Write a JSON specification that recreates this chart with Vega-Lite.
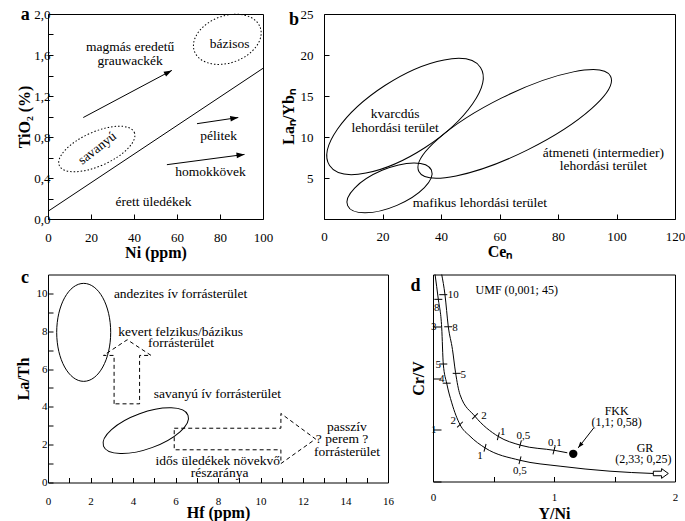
{
"$schema": "https://vega.github.io/schema/vega-lite/v6.json",
"padding": {"left": 14, "top": 5, "right": 0, "bottom": 0},
"background": "white",
"config": {
  "font": "Liberation Serif, Times New Roman, serif",
  "view": {"stroke": "black", "strokeWidth": 1},
  "axis": {"domain": false, "grid": false, "tickColor": "black", "tickSize": -5, "labelColor": "black", "titleColor": "black", "labelFont": "Liberation Serif, Times New Roman, serif", "titleFont": "Liberation Serif, Times New Roman, serif", "titleFontWeight": "bold", "titleFontSize": 16, "labelFontSize": 13, "labelFlush": false, "labelOverlap": false, "labelBound": false},
  "title": {"font": "Liberation Serif, Times New Roman, serif", "fontSize": 18, "fontWeight": "bold", "anchor": "start", "frame": "bounds", "color": "black"},
  "text": {"font": "Liberation Serif, Times New Roman, serif", "color": "black"}
},
"datasets": {
  "a_rules": [
    {"id": "L", "x": 0, "y": 0.075, "x2": 100, "y2": 1.47},
    {"id": "A1", "x": 16.4, "y": 0.99, "x2": 57.6, "y2": 1.45},
    {"id": "A2", "x": 69.3, "y": 0.93, "x2": 88.5, "y2": 0.99},
    {"id": "A3", "x": 55.3, "y": 0.53, "x2": 91.4, "y2": 0.63}
  ],
  "a_heads": [
    {"id": "A1", "x": 57.6, "y": 1.45},
    {"id": "A2", "x": 88.5, "y": 0.99},
    {"id": "A3", "x": 91.4, "y": 0.63}
  ],
  "a_ell": [
    {"id": "sav", "x": 22.7, "y": 0.683},
    {"id": "baz", "x": 83.4, "y": 1.753}
  ],
  "a_text": [
    {"x": 38.2, "y": 1.675, "t": "magmás eredetű"},
    {"x": 38.2, "y": 1.542, "t": "grauwackék"},
    {"x": 84.5, "y": 1.707, "t": "bázisos"},
    {"x": 79.4, "y": 0.813, "t": "pélitek"},
    {"x": 75.6, "y": 0.455, "t": "homokkövek"},
    {"x": 49.1, "y": 0.163, "t": "érett üledékek"}
  ],
  "a_text_rot": [
    {"x": 22.9, "y": 0.69, "t": "savanyú"}
  ],
  "b_ell": [
    {"id": "kv", "x": 27.7, "y": 12.5},
    {"id": "at", "x": 65.2, "y": 11.6},
    {"id": "ma", "x": 22.4, "y": 3.8}
  ],
  "b_text": [
    {"x": 24.3, "y": 12.8, "t": "kvarcdús"},
    {"x": 24.3, "y": 11.06, "t": "lehordási terület"},
    {"x": 95.5, "y": 8.01, "t": "átmeneti (intermedier)"},
    {"x": 95.5, "y": 6.42, "t": "lehordási terület"},
    {"x": 53.3, "y": 1.95, "t": "mafikus lehordási terület"}
  ],
  "c_ell": [
    {"id": "and", "x": 1.68, "y": 7.94},
    {"id": "sav", "x": 4.6, "y": 2.74}
  ],
  "c_arrows": [
    {"g": 1, "o": 1, "x": 3.11, "y": 4.16},
    {"g": 1, "o": 2, "x": 3.11, "y": 6.72},
    {"g": 1, "o": 3, "x": 2.61, "y": 6.72},
    {"g": 1, "o": 4, "x": 3.73, "y": 7.55},
    {"g": 1, "o": 5, "x": 4.85, "y": 6.72},
    {"g": 1, "o": 6, "x": 4.31, "y": 6.72},
    {"g": 1, "o": 7, "x": 4.31, "y": 4.16},
    {"g": 1, "o": 8, "x": 3.11, "y": 4.16},
    {"g": 2, "o": 1, "x": 5.94, "y": 2.87},
    {"g": 2, "o": 2, "x": 10.96, "y": 2.87},
    {"g": 2, "o": 3, "x": 10.96, "y": 3.65},
    {"g": 2, "o": 4, "x": 12.59, "y": 2.3},
    {"g": 2, "o": 5, "x": 10.96, "y": 1.0},
    {"g": 2, "o": 6, "x": 10.96, "y": 1.73},
    {"g": 2, "o": 7, "x": 5.94, "y": 1.73},
    {"g": 2, "o": 8, "x": 5.94, "y": 2.87}
  ],
  "c_text": [
    {"x": 6.24, "y": 9.98, "t": "andezites ív forrásterület"},
    {"x": 6.24, "y": 7.95, "t": "kevert felzikus/bázikus"},
    {"x": 6.26, "y": 7.37, "t": "forrásterület"},
    {"x": 7.97, "y": 4.66, "t": "savanyú ív forrásterület"},
    {"x": 14.07, "y": 2.95, "t": "passzív"},
    {"x": 13.84, "y": 2.3, "t": "? perem ?"},
    {"x": 14.07, "y": 1.6, "t": "forrásterület"},
    {"x": 7.99, "y": 1.16, "t": "idős üledékek növekvő"},
    {"x": 8.08, "y": 0.5, "t": "részaránya"}
  ],
  "d_curves": [
    {"g": "in", "o": 1, "x": 0.017, "y": 4.0},
    {"g": "in", "o": 2, "x": 0.044, "y": 3.52},
    {"g": "in", "o": 3, "x": 0.072, "y": 2.97},
    {"g": "in", "o": 4, "x": 0.085, "y": 2.27},
    {"g": "in", "o": 5, "x": 0.113, "y": 1.9},
    {"g": "in", "o": 6, "x": 0.155, "y": 1.52},
    {"g": "in", "o": 7, "x": 0.223, "y": 1.1},
    {"g": "in", "o": 8, "x": 0.306, "y": 0.875},
    {"g": "in", "o": 9, "x": 0.43, "y": 0.65},
    {"g": "in", "o": 10, "x": 0.719, "y": 0.41},
    {"g": "in", "o": 11, "x": 1.05, "y": 0.296},
    {"g": "in", "o": 12, "x": 1.463, "y": 0.199},
    {"g": "in", "o": 13, "x": 1.82, "y": 0.155},
    {"g": "out", "o": 1, "x": 0.072, "y": 4.0},
    {"g": "out", "o": 2, "x": 0.099, "y": 3.61},
    {"g": "out", "o": 3, "x": 0.126, "y": 3.0},
    {"g": "out", "o": 4, "x": 0.161, "y": 2.55},
    {"g": "out", "o": 5, "x": 0.186, "y": 2.11},
    {"g": "out", "o": 6, "x": 0.223, "y": 1.68},
    {"g": "out", "o": 7, "x": 0.347, "y": 1.26},
    {"g": "out", "o": 8, "x": 0.54, "y": 0.87},
    {"g": "out", "o": 9, "x": 0.725, "y": 0.7},
    {"g": "out", "o": 10, "x": 1.008, "y": 0.6},
    {"g": "out", "o": 11, "x": 1.11, "y": 0.555}
  ],
  "d_ticks": [
    {"g": "s", "x": 0.085, "y": 3.61},
    {"g": "s", "x": 0.126, "y": 2.99},
    {"g": "s", "x": 0.196, "y": 2.09},
    {"g": "m", "x": 0.347, "y": 1.26},
    {"g": "f", "x": 0.54, "y": 0.875},
    {"g": "f", "x": 0.722, "y": 0.72},
    {"g": "f", "x": 1.0, "y": 0.6},
    {"g": "s", "x": 0.044, "y": 3.52},
    {"g": "s", "x": 0.085, "y": 2.27},
    {"g": "s", "x": 0.113, "y": 1.9},
    {"g": "m", "x": 0.223, "y": 1.1},
    {"g": "f", "x": 0.43, "y": 0.65},
    {"g": "f", "x": 0.719, "y": 0.41}
  ],
  "d_tlab": [
    {"x": 0.168, "y": 3.61, "t": "10"},
    {"x": 0.182, "y": 2.97, "t": "8"},
    {"x": 0.25, "y": 2.05, "t": "5"},
    {"x": 0.421, "y": 1.26, "t": "2"},
    {"x": 0.576, "y": 0.96, "t": "1"},
    {"x": 0.746, "y": 0.875, "t": "0,5"},
    {"x": 1.008, "y": 0.75, "t": "0,1"},
    {"x": 0.031, "y": 3.36, "t": "8"},
    {"x": 0.044, "y": 2.26, "t": "5"},
    {"x": 0.072, "y": 1.98, "t": "4"},
    {"x": 0.168, "y": 1.165, "t": "2"},
    {"x": 0.388, "y": 0.49, "t": "1"},
    {"x": 0.719, "y": 0.2, "t": "0,5"}
  ],
  "d_text": [
    {"x": 0.692, "y": 3.71, "t": "UMF (0,001; 45)"},
    {"x": 1.518, "y": 1.36, "t": "FKK"},
    {"x": 1.518, "y": 1.146, "t": "(1,1; 0,58)"},
    {"x": 1.752, "y": 0.65, "t": "GR"},
    {"x": 1.738, "y": 0.43, "t": "(2,33; 0,25)"}
  ],
  "d_dot": [{"x": 1.159, "y": 0.535}],
  "d_rule": [{"x": 1.33, "y": 1.04, "x2": 1.2, "y2": 0.65}],
  "d_head": [{"x": 1.2, "y": 0.65}],
  "d_gr": [{"x": 1.883, "y": 0.155}]
},
"spacing": 7.5,
"vconcat": [
  {
    "spacing": 5,
    "hconcat": [
      {
        "width": 215, "height": 205,
        "title": {"text": "a", "offset": -13, "dy": 3, "dx": 4},
        "encoding": {
          "x": {"field": "x", "type": "quantitative", "scale": {"domain": [0, 100], "nice": false, "zero": false},
                "axis": {"title": "Ni (ppm)", "values": [0, 20, 40, 60, 80, 100], "labelPadding": 17, "titlePadding": 0.5}},
          "y": {"field": "y", "type": "quantitative", "scale": {"domain": [0, 2], "nice": false, "zero": false},
                "axis": {"title": "TiO₂ (%)", "values": [0, 0.2, 0.4, 0.6, 0.8, 1, 1.2, 1.4, 1.6, 1.8, 2], "labelExpr": "round(datum.value*10) % 4 === 0 ? replace(format(datum.value, '.1f'), '.', ',') : ''", "labelPadding": 3, "titlePadding": 1}}
        },
        "layer": [
          {"data": {"name": "a_rules"}, "mark": {"type": "rule", "color": "black", "strokeWidth": 1},
           "encoding": {"x2": {"field": "x2"}, "y2": {"field": "y2"}}},
          {"data": {"name": "a_heads"}, "transform": [{"filter": "datum.id === 'A1'"}],
           "mark": {"type": "point", "shape": "M 0 0 L -0.35 1 L 0.35 1 Z", "filled": true, "color": "black", "opacity": 1, "size": 256, "angle": 62}},
          {"data": {"name": "a_heads"}, "transform": [{"filter": "datum.id === 'A2'"}],
           "mark": {"type": "point", "shape": "M 0 0 L -0.35 1 L 0.35 1 Z", "filled": true, "color": "black", "opacity": 1, "size": 256, "angle": 81}},
          {"data": {"name": "a_heads"}, "transform": [{"filter": "datum.id === 'A3'"}],
           "mark": {"type": "point", "shape": "M 0 0 L -0.35 1 L 0.35 1 Z", "filled": true, "color": "black", "opacity": 1, "size": 256, "angle": 83}},
          {"data": {"name": "a_ell"}, "transform": [{"filter": "datum.id === 'sav'"}],
           "mark": {"type": "point", "shape": "M 1 0 C 1 0.229 0.552 0.415 0 0.415 C -0.552 0.415 -1 0.229 -1 0 C -1 -0.229 -0.552 -0.415 0 -0.415 C 0.552 -0.415 1 -0.229 1 0 Z", "filled": false, "color": "black", "opacity": 1, "strokeWidth": 1, "strokeDash": [1.5, 2], "size": 6724, "angle": -24}},
          {"data": {"name": "a_ell"}, "transform": [{"filter": "datum.id === 'baz'"}],
           "mark": {"type": "point", "shape": "M 1 0 C 1 0.371 0.552 0.671 0 0.671 C -0.552 0.671 -1 0.371 -1 0 C -1 -0.371 -0.552 -0.671 0 -0.671 C 0.552 -0.671 1 -0.371 1 0 Z", "filled": false, "color": "black", "opacity": 1, "strokeWidth": 1, "strokeDash": [1.5, 2], "size": 4900, "angle": -20}},
          {"data": {"name": "a_text"}, "mark": {"type": "text", "fontSize": 13.5},
           "encoding": {"text": {"field": "t"}}},
          {"data": {"name": "a_text_rot"}, "mark": {"type": "text", "fontSize": 13.5, "angle": -38},
           "encoding": {"text": {"field": "t"}}}
        ]
      },
      {
        "width": 351, "height": 205,
        "title": {"text": "b", "offset": -17.5, "dx": 9, "dy": 3.5},
        "encoding": {
          "x": {"field": "x", "type": "quantitative", "scale": {"domain": [0, 120], "nice": false, "zero": false},
                "axis": {"title": "Ceₙ", "values": [0, 20, 40, 60, 80, 100, 120], "labelPadding": 16.5, "titlePadding": 0}},
          "y": {"field": "y", "type": "quantitative", "scale": {"domain": [0, 25], "nice": false, "zero": false},
                "axis": {"title": "Laₙ/Ybₙ", "values": [0, 5, 10, 15, 20, 25], "labelExpr": "datum.value === 0 ? '' : datum.label", "labelPadding": 16, "titlePadding": 4}}
        },
        "layer": [
          {"data": {"name": "b_ell"}, "transform": [{"filter": "datum.id === 'kv'"}],
           "mark": {"type": "point", "shape": "M 1 0 C 1 0.227 0.552 0.411 0 0.411 C -0.552 0.411 -1 0.227 -1 0 C -1 -0.227 -0.552 -0.411 0 -0.411 C 0.552 -0.411 1 -0.227 1 0 Z", "filled": false, "color": "black", "opacity": 1, "strokeWidth": 1, "size": 32400, "angle": -33}},
          {"data": {"name": "b_ell"}, "transform": [{"filter": "datum.id === 'at'"}],
           "mark": {"type": "point", "shape": "M 1 0 C 1 0.15 0.552 0.271 0 0.271 C -0.552 0.271 -1 0.15 -1 0 C -1 -0.15 -0.552 -0.271 0 -0.271 C 0.552 -0.271 1 -0.15 1 0 Z", "filled": false, "color": "black", "opacity": 1, "strokeWidth": 1, "size": 45796, "angle": -26.4}},
          {"data": {"name": "b_ell"}, "transform": [{"filter": "datum.id === 'ma'"}],
           "mark": {"type": "point", "shape": "M 1 0 C 1 0.231 0.552 0.418 0 0.418 C -0.552 0.418 -1 0.231 -1 0 C -1 -0.231 -0.552 -0.418 0 -0.418 C 0.552 -0.418 1 -0.231 1 0 Z", "filled": false, "color": "black", "opacity": 1, "strokeWidth": 1, "size": 8281, "angle": -23}},
          {"data": {"name": "b_text"}, "mark": {"type": "text", "fontSize": 13.5},
           "encoding": {"text": {"field": "t"}}}
        ]
      }
    ]
  },
  {
    "spacing": 16,
    "hconcat": [
      {
        "width": 340, "height": 208,
        "title": {"text": "c", "offset": -8.5, "dx": 6, "dy": 4},
        "encoding": {
          "x": {"field": "x", "type": "quantitative", "scale": {"domain": [0, 16], "nice": false, "zero": false},
                "axis": {"title": "Hf (ppm)", "values": [0, 1, 2, 3, 4, 5, 6, 7, 8, 9, 10, 11, 12, 13, 14, 15, 16], "labelExpr": "datum.value % 2 === 0 ? datum.label : ''", "labelPadding": 18, "titlePadding": -2.5, "labelFontSize": 11}},
          "y": {"field": "y", "type": "quantitative", "scale": {"domain": [0, 11], "nice": false, "zero": false},
                "axis": {"title": "La/Th", "values": [0, 1, 2, 3, 4, 5, 6, 7, 8, 9, 10], "labelExpr": "datum.value % 2 === 0 ? datum.label : ''", "labelPadding": 6, "titlePadding": 5, "labelFontSize": 11}}
        },
        "layer": [
          {"data": {"name": "c_ell"}, "transform": [{"filter": "datum.id === 'and'"}],
           "mark": {"type": "point", "shape": "M 1 0 C 1 0.304 0.552 0.551 0 0.551 C -0.552 0.551 -1 0.304 -1 0 C -1 -0.304 -0.552 -0.551 0 -0.551 C 0.552 -0.551 1 -0.304 1 0 Z", "filled": false, "color": "black", "opacity": 1, "strokeWidth": 1, "size": 9604, "angle": 90}},
          {"data": {"name": "c_ell"}, "transform": [{"filter": "datum.id === 'sav'"}],
           "mark": {"type": "point", "shape": "M 1 0 C 1 0.221 0.552 0.4 0 0.4 C -0.552 0.4 -1 0.221 -1 0 C -1 -0.221 -0.552 -0.4 0 -0.4 C 0.552 -0.4 1 -0.221 1 0 Z", "filled": false, "color": "black", "opacity": 1, "strokeWidth": 1, "size": 8100, "angle": -20}},
          {"data": {"name": "c_arrows"}, "mark": {"type": "line", "color": "black", "strokeWidth": 1, "strokeDash": [4, 3]},
           "encoding": {"detail": {"field": "g"}, "order": {"field": "o"}}},
          {"data": {"name": "c_text"}, "mark": {"type": "text", "fontSize": 13.5},
           "encoding": {"text": {"field": "t"}}}
        ]
      },
      {
        "width": 242, "height": 207,
        "title": {"text": "d", "offset": -15, "dy": 7},
        "encoding": {
          "x": {"field": "x", "type": "quantitative", "scale": {"domain": [0, 2], "nice": false, "zero": false},
                "axis": {"title": "Y/Ni", "values": [0, 0.5, 1, 1.5, 2], "labelExpr": "datum.value % 1 === 0 ? format(datum.value, 'd') : ''", "labelPadding": 15, "titlePadding": 2.5, "labelFontSize": 11}},
          "y": {"field": "y", "type": "quantitative", "scale": {"domain": [0, 4], "nice": false, "zero": false},
                "axis": {"title": "Cr/V", "values": [0, 1, 2, 3], "labelExpr": "datum.value === 1 || datum.value === 3 ? format(datum.value, 'd') : ''", "labelPadding": 5, "titlePadding": 4, "labelFontSize": 11, "tickSize": -8}}
        },
        "layer": [
          {"data": {"name": "d_curves"}, "mark": {"type": "line", "color": "black", "strokeWidth": 1, "interpolate": "monotone"},
           "encoding": {"detail": {"field": "g"}, "order": {"field": "o"}}},
          {"data": {"name": "d_ticks"}, "transform": [{"filter": "datum.g === 's'"}],
           "mark": {"type": "point", "shape": "stroke", "color": "black", "opacity": 1, "strokeWidth": 1, "size": 64, "angle": 0}},
          {"data": {"name": "d_ticks"}, "transform": [{"filter": "datum.g === 'm'"}],
           "mark": {"type": "point", "shape": "stroke", "color": "black", "opacity": 1, "strokeWidth": 1, "size": 64, "angle": 135}},
          {"data": {"name": "d_ticks"}, "transform": [{"filter": "datum.g === 'f'"}],
           "mark": {"type": "point", "shape": "stroke", "color": "black", "opacity": 1, "strokeWidth": 1, "size": 64, "angle": 105}},
          {"data": {"name": "d_tlab"}, "mark": {"type": "text", "fontSize": 11},
           "encoding": {"text": {"field": "t"}}},
          {"data": {"name": "d_text"}, "mark": {"type": "text", "fontSize": 12},
           "encoding": {"text": {"field": "t"}}},
          {"data": {"name": "d_dot"}, "mark": {"type": "point", "shape": "circle", "filled": true, "color": "black", "opacity": 1, "size": 70}},
          {"data": {"name": "d_rule"}, "mark": {"type": "rule", "color": "black", "strokeWidth": 1},
           "encoding": {"x2": {"field": "x2"}, "y2": {"field": "y2"}}},
          {"data": {"name": "d_head"}, "mark": {"type": "point", "shape": "M 0 0 L -0.35 1 L 0.35 1 Z", "filled": true, "color": "black", "opacity": 1, "size": 144, "angle": 218}},
          {"data": {"name": "d_gr"}, "mark": {"type": "point", "shape": "M -1 -0.3 L 0.1 -0.3 L 0.1 -0.65 L 1 0 L 0.1 0.65 L 0.1 0.3 L -1 0.3 Z", "filled": true, "fill": "white", "stroke": "black", "strokeWidth": 1, "opacity": 1, "size": 225}}
        ]
      }
    ]
  }
]
}
